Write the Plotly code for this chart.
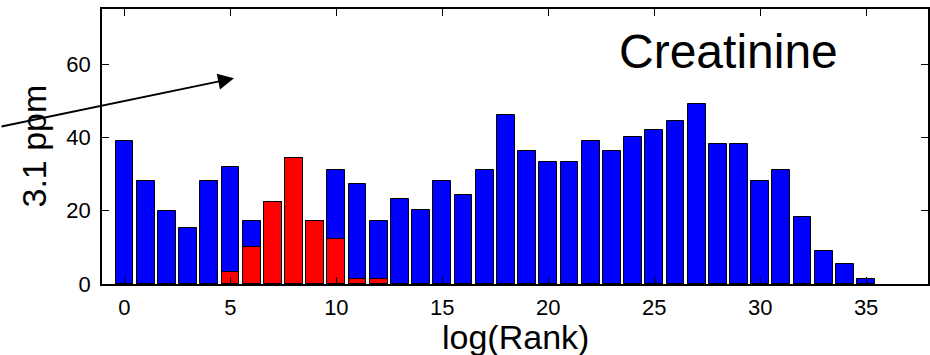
import plotly.graph_objects as go

# Rank bins (log scale index) and counts at 3.1 ppm
rank_bins = list(range(0, 36))
all_counts = [39, 28, 20, 15.3, 28, 32, 17.2, 22.3, 34.3, 17.2,
              31, 27.2, 17.2, 23.3, 20.1, 28, 24.4, 31, 46.2, 36.2,
              33.4, 33.4, 39.1, 36.2, 40, 42, 44.4, 49.2, 38.2, 38.2,
              28, 31, 18.2, 9.1, 5.4, 1.5]
creatinine_counts = [0, 0, 0, 0, 0, 3.3, 10, 22.3, 34.3, 17.2,
                     12.3, 1.4, 1.4, 0, 0, 0, 0, 0, 0, 0,
                     0, 0, 0, 0, 0, 0, 0, 0, 0, 0,
                     0, 0, 0, 0, 0, 0]
x_ticks = [0, 5, 10, 15, 20, 25, 30, 35]
y_ticks = [0, 20, 40, 60]

FONT = "Liberation Sans, Arial, Helvetica, sans-serif"
W, H = 930, 355
ML, MR, MT, MB = 102, 0, 9, 71

fig = go.Figure()
fig.add_trace(go.Bar(
    x=rank_bins, y=all_counts, width=0.84,
    marker=dict(color="#0000ff", line=dict(color="#000000", width=1)),
    showlegend=False,
))
fig.add_trace(go.Bar(
    x=rank_bins, y=creatinine_counts, width=0.84,
    marker=dict(color="#ff0000", line=dict(color="#000000", width=1)),
    showlegend=False,
))

axis_common = dict(
    showgrid=False, zeroline=False,
    showline=True, linecolor="black", linewidth=1.5,
    mirror="ticks", ticks="inside", ticklen=7, tickcolor="black", tickwidth=1,
    tickfont=dict(family=FONT, size=22, color="black"),
)

fig.update_layout(
    width=W, height=H,
    margin=dict(l=ML, r=MR, t=MT, b=MB, pad=0),
    paper_bgcolor="white", plot_bgcolor="white",
    barmode="overlay", bargap=0,
    xaxis=dict(range=[-1.06, 37.92], tickvals=x_ticks, ticklabelstandoff=3, **axis_common),
    yaxis=dict(range=[0, 75], tickvals=y_ticks, ticklabelstandoff=5, **axis_common),
    font=dict(family=FONT, color="black"),
)

fig.add_annotation(
    text="log(Rank)", xref="paper", yref="paper", x=0.5, y=0,
    xanchor="center", yanchor="middle", yshift=-53, showarrow=False,
    font=dict(family=FONT, size=34, color="black"),
)
fig.add_annotation(
    text="3.1 ppm", xref="paper", yref="paper", x=0, y=0.5,
    xanchor="center", yanchor="middle", xshift=-69, textangle=-90, showarrow=False,
    font=dict(family=FONT, size=34, color="black"),
)
fig.add_annotation(
    text="Creatinine", xref="paper", yref="paper", x=0.758, y=0.845,
    xanchor="center", yanchor="middle", showarrow=False,
    font=dict(family=FONT, size=48, color="black"),
)
fig.add_annotation(
    text="", x=5.17, y=56.1, xref="x", yref="y",
    showarrow=True, arrowhead=2, arrowsize=1.6, arrowwidth=2, arrowcolor="black",
    ax=-240, ay=48.5,
)

fig.write_html("out.html")
